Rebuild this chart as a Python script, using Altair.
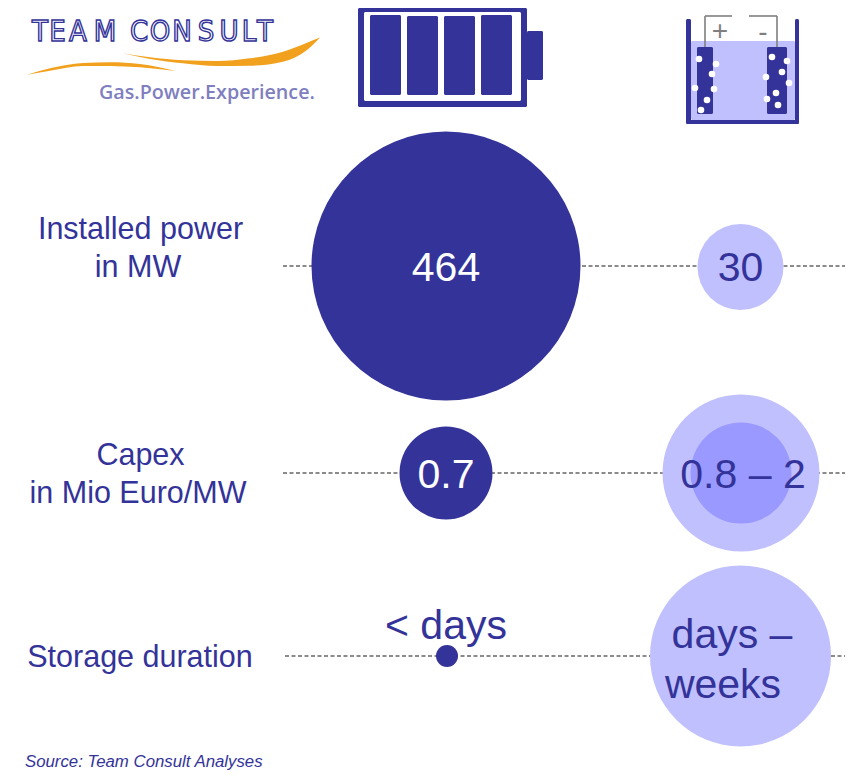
import altair as alt
import pandas as pd

NAVY = "#333399"
LIGHT = "#C0C0FF"
MID = "#9999FF"
ORANGE = "#F2A11E"
GREY = "#7F7F7F"
FONT = "Liberation Sans"

# Main bubbles
bubble_x = [446, 740.5, 446, 741, 741, 447, 740.5]
bubble_y = [266, 267, 473, 473, 473, 656, 656]
bubble_r = [134.5, 43, 46.5, 78.5, 50.5, 11, 90.5]
bubble_c = [NAVY, LIGHT, NAVY, LIGHT, MID, NAVY, LIGHT]

# Dashed guides
guide_x1 = [283, 283, 285]
guide_x2 = [850, 850, 852]
guide_y = [266, 473, 656]

# Texts
text_s = ["464", "30", "0.7", "0.8 – 2", "< days", "days –", "weeks"]
text_x = [446, 740.5, 446, 743, 446, 732, 723]
text_y = [281, 281, 488, 488, 639, 648, 698]
text_c = ["#FFFFFF", NAVY, "#FFFFFF", NAVY, NAVY, NAVY, NAVY]

label_s = ["Installed power", "in MW", "Capex", "in Mio Euro/MW", "Storage duration"]
label_x = [140.5, 138, 140.5, 138, 140]
label_y = [239, 277, 465, 503, 667]

# Logo
logo_letters = list("TEAMCONSULT")
logo_x = [40, 57.5, 78, 105, 139, 160, 182, 206, 229, 249, 265]
swoosh1_x = [27, 50, 83, 110, 140, 176]
swoosh1_t = [74.7, 68.3, 63, 62.3, 64, 71]
swoosh1_b = [74.7, 70.7, 66, 66, 67.3, 71]
swoosh2_x = [123, 150, 183, 217, 250, 283, 307, 320]
swoosh2_t = [53.3, 57.3, 60.3, 61, 58.3, 51.7, 42.7, 37.5]
swoosh2_b = [53.3, 59, 63.3, 66, 65.7, 61.7, 50, 37.5]

# Icons: rectangles drawn back to front
rect_x1 = [358, 364, 370, 407, 444, 481, 527, 691, 686, 795, 686, 697, 767]
rect_x2 = [527, 521, 401, 438, 475, 512, 543, 795, 691, 799, 799, 713, 787]
rect_y1 = [8, 12, 15, 16, 16, 15, 31, 41, 19, 19, 120, 47, 47]
rect_y2 = [107, 101, 95, 95, 95, 95, 80, 120, 124, 124, 124, 114, 114]
rect_c = [NAVY, "#FFFFFF", NAVY, NAVY, NAVY, NAVY, NAVY, LIGHT, NAVY, NAVY, NAVY, NAVY, NAVY]

wire_x1 = [705, 705, 749, 777]
wire_x2 = [705, 732, 777, 777]
wire_y1 = [16, 16, 16, 16]
wire_y2 = [47, 16, 16, 47]

sign_s = ["+", "-"]
sign_x = [720, 763]
sign_y = [40, 41]

dot_x = [699, 716, 712, 695, 714, 707, 701, 772, 787, 782, 766, 789, 776, 767, 778]
dot_y = [59, 64, 74, 88, 89, 100, 110, 57, 61, 72, 77, 83, 93, 99, 105]

W, H = 837, 764
X = alt.Scale(domain=[8, 845], range=[0, W], nice=False, zero=False)
Y = alt.Scale(domain=[8, 772], range=[0, H], nice=False, zero=False)
x = alt.X("x:Q", scale=X, axis=None)
x2 = alt.X2("x2:Q")
y = alt.Y("y:Q", scale=Y, axis=None)
y2 = alt.Y2("y2:Q")
col = alt.Color("c:N", scale=None)

rects = alt.Chart(pd.DataFrame(dict(x=rect_x1, x2=rect_x2, y=rect_y1, y2=rect_y2, c=rect_c))).mark_rect(
    cornerRadius=1.5).encode(x=x, x2=x2, y=y, y2=y2, color=col)

wires = alt.Chart(pd.DataFrame(dict(x=wire_x1, x2=wire_x2, y=wire_y1, y2=wire_y2))).mark_rule(
    color=GREY, strokeWidth=1.6).encode(x=x, x2=x2, y=y, y2=y2)

signs = alt.Chart(pd.DataFrame(dict(x=sign_x, y=sign_y, s=sign_s))).mark_text(
    font=FONT, fontSize=28, color=GREY, align="center", baseline="alphabetic").encode(x=x, y=y, text="s:N")

dots = alt.Chart(pd.DataFrame(dict(x=dot_x, y=dot_y))).mark_circle(
    color="#FFFFFF", opacity=1, size=4 * 3.3 ** 2).encode(x=x, y=y)

guides = alt.Chart(pd.DataFrame(dict(x=guide_x1, x2=guide_x2, y=guide_y))).mark_rule(
    color="#666666", strokeWidth=1.3, strokeDash=[4, 2.5]).encode(x=x, x2=x2, y=y)

bubbles = alt.Chart(pd.DataFrame(dict(
    x=bubble_x, y=bubble_y, c=bubble_c, a=[4 * r ** 2 for r in bubble_r]
))).mark_circle(opacity=1).encode(x=x, y=y, color=col, size=alt.Size("a:Q", scale=None))

values = alt.Chart(pd.DataFrame(dict(x=text_x, y=text_y, s=text_s, c=text_c))).mark_text(
    font=FONT, fontSize=41, align="center", baseline="alphabetic").encode(x=x, y=y, text="s:N", color=col)

labels = alt.Chart(pd.DataFrame(dict(x=label_x, y=label_y, s=label_s))).mark_text(
    font=FONT, fontSize=30.5, align="center", baseline="alphabetic", color=NAVY).encode(x=x, y=y, text="s:N")

source = alt.Chart(pd.DataFrame(dict(x=[25], y=[767], s=["Source: Team Consult Analyses"]))).mark_text(
    font=FONT, fontSize=16.8, fontStyle="italic", align="left", baseline="alphabetic", color=NAVY
).encode(x=x, y=y, text="s:N")

logo = alt.Chart(pd.DataFrame(dict(x=logo_x, y=[41] * len(logo_x), s=logo_letters))).mark_text(
    font="DejaVu Sans Condensed", fontSize=29, align="center", baseline="alphabetic",
    fill="#FFFFFF", stroke=NAVY, strokeWidth=1.4).encode(x=x, y=y, text="s:N")

sw1 = alt.Chart(pd.DataFrame(dict(x=swoosh1_x, y=swoosh1_t, y2=swoosh1_b))).mark_area(
    color=ORANGE, opacity=1, interpolate="monotone").encode(x=x, y=y, y2=y2)
sw2 = alt.Chart(pd.DataFrame(dict(x=swoosh2_x, y=swoosh2_t, y2=swoosh2_b))).mark_area(
    color=ORANGE, opacity=1, interpolate="monotone").encode(x=x, y=y, y2=y2)

tagline = alt.Chart(pd.DataFrame(dict(x=[99], y=[99], s=["Gas.Power.Experience."]))).mark_text(
    font="Open Sans", fontSize=19.7, fontWeight=600, align="left", baseline="alphabetic", color="#7F7FBF"
).encode(x=x, y=y, text="s:N")

chart = alt.layer(
    guides, bubbles, values, labels, source, rects, wires, signs, dots,
    sw1, sw2, logo, tagline
).properties(width=W, height=H, padding=0, autosize="none", background="#FFFFFF"
).configure_view(stroke=None)

chart.save("out.html", embed_options={"renderer": "svg", "actions": False})
